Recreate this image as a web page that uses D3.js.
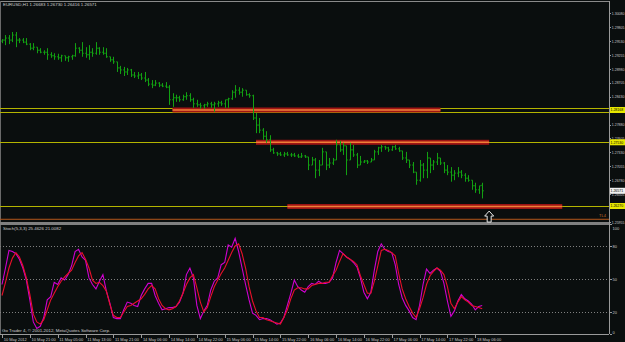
<!DOCTYPE html>
<html>
<head>
<meta charset="utf-8">
<script src="https://cdn.jsdelivr.net/npm/d3@7"></script>
<style>
  body { margin: 0; background: #0a0e0e; }
  svg { display: block; font-family: "Liberation Sans", Arial, sans-serif; }
  .axis text { fill: #c8c8c8; font-size: 4px; }
  .axis path, .axis line { stroke: #9a9a9a; shape-rendering: crispEdges; }
  .yaxis text { font-size: 3.5px; }
</style>
</head>
<body>
<svg id="chart" width="625" height="342"></svg>
<script>
// EURUSD H1 bars, 10 May 13:00 .. 18 May 08:00
const opens = [1.2953,1.2955,1.2959,1.2955,1.2965,1.2955,1.2955,1.2951,1.2947,1.2939,
1.2941,1.2935,1.2931,1.2931,1.2926,1.2924,1.2922,1.2920,1.2924,1.2920,
1.2922,1.2924,1.2939,1.2935,1.2929,1.2926,1.2931,1.2929,1.2939,1.2931,
1.2929,1.2922,1.2916,1.2912,1.2900,1.2896,1.2892,1.2896,1.2886,1.2884,
1.2886,1.2880,1.2876,1.2868,1.2866,1.2870,1.2866,1.2864,1.2862,1.2837,
1.2841,1.2841,1.2837,1.2843,1.2845,1.2837,1.2829,1.2827,1.2825,1.2827,
1.2829,1.2827,1.2829,1.2831,1.2829,1.2837,1.2839,1.2852,1.2856,1.2852,
1.2856,1.2847,1.2845,1.2801,1.2787,1.2777,1.2765,1.2758,1.2738,1.2732,
1.2730,1.2728,1.2730,1.2728,1.2728,1.2726,1.2724,1.2726,1.2724,1.2708,
1.2718,1.2698,1.2708,1.2734,1.2708,1.2712,1.2718,1.2748,1.2738,1.2746,
1.2718,1.2738,1.2728,1.2708,1.2714,1.2716,1.2714,1.2718,1.2734,1.2742,
1.2744,1.2742,1.2738,1.2744,1.2740,1.2736,1.2722,1.2718,1.2708,1.2694,
1.2678,1.2708,1.2698,1.2722,1.2708,1.2714,1.2722,1.2712,1.2698,1.2694,
1.2688,1.2692,1.2694,1.2688,1.2682,1.2678,1.2667,1.2659,1.2668];

const highs = [1.2957,1.2965,1.2965,1.2971,1.2971,1.2959,1.2959,1.2959,1.2949,1.2949,
1.2941,1.2939,1.2935,1.2939,1.2931,1.2929,1.2928,1.2926,1.2924,1.2924,
1.2926,1.2949,1.2941,1.2951,1.2941,1.2945,1.2939,1.2951,1.2941,1.2941,
1.2939,1.2922,1.2922,1.2912,1.2904,1.2902,1.2900,1.2898,1.2892,1.2892,
1.2890,1.2892,1.2880,1.2876,1.2876,1.2872,1.2870,1.2872,1.2866,1.2850,
1.2847,1.2845,1.2847,1.2852,1.2850,1.2841,1.2837,1.2831,1.2829,1.2833,
1.2833,1.2833,1.2835,1.2835,1.2837,1.2841,1.2856,1.2866,1.2862,1.2860,
1.2856,1.2850,1.2847,1.2811,1.2801,1.2781,1.2775,1.2767,1.2742,1.2734,
1.2734,1.2734,1.2734,1.2732,1.2732,1.2730,1.2732,1.2728,1.2724,1.2724,
1.2722,1.2718,1.2742,1.2734,1.2722,1.2722,1.2758,1.2756,1.2752,1.2746,
1.2752,1.2748,1.2732,1.2726,1.2718,1.2718,1.2722,1.2738,1.2744,1.2748,
1.2746,1.2744,1.2746,1.2748,1.2744,1.2736,1.2734,1.2718,1.2714,1.2694,
1.2718,1.2712,1.2734,1.2722,1.2718,1.2732,1.2722,1.2714,1.2708,1.2704,
1.2698,1.2704,1.2698,1.2692,1.2688,1.2678,1.2673,1.2667,1.2673];

const lows = [1.2949,1.2945,1.2947,1.2951,1.2941,1.2949,1.2949,1.2945,1.2935,1.2935,
1.2929,1.2929,1.2926,1.2916,1.2920,1.2916,1.2916,1.2912,1.2914,1.2912,
1.2916,1.2922,1.2929,1.2922,1.2920,1.2916,1.2922,1.2926,1.2926,1.2926,
1.2920,1.2912,1.2908,1.2892,1.2888,1.2884,1.2886,1.2882,1.2880,1.2878,
1.2876,1.2872,1.2864,1.2860,1.2864,1.2862,1.2862,1.2860,1.2827,1.2823,
1.2833,1.2833,1.2835,1.2837,1.2833,1.2821,1.2823,1.2819,1.2819,1.2823,
1.2821,1.2813,1.2823,1.2825,1.2821,1.2821,1.2837,1.2841,1.2847,1.2843,
1.2845,1.2841,1.2797,1.2771,1.2771,1.2758,1.2752,1.2734,1.2730,1.2726,
1.2726,1.2724,1.2726,1.2724,1.2724,1.2722,1.2722,1.2722,1.2698,1.2708,
1.2682,1.2686,1.2708,1.2698,1.2702,1.2708,1.2718,1.2734,1.2728,1.2688,
1.2718,1.2724,1.2702,1.2708,1.2712,1.2710,1.2714,1.2718,1.2728,1.2734,
1.2738,1.2734,1.2736,1.2738,1.2734,1.2718,1.2712,1.2702,1.2692,1.2669,
1.2675,1.2682,1.2682,1.2692,1.2698,1.2708,1.2708,1.2692,1.2688,1.2675,
1.2678,1.2684,1.2682,1.2675,1.2675,1.2659,1.2653,1.2651,1.2642];

const closes = [1.2955,1.2959,1.2955,1.2965,1.2955,1.2955,1.2951,1.2947,1.2939,1.2941,
1.2935,1.2931,1.2931,1.2926,1.2924,1.2922,1.2920,1.2924,1.2920,1.2922,
1.2924,1.2939,1.2935,1.2929,1.2926,1.2931,1.2929,1.2939,1.2931,1.2929,
1.2922,1.2916,1.2912,1.2900,1.2896,1.2892,1.2896,1.2886,1.2884,1.2886,
1.2880,1.2876,1.2868,1.2866,1.2870,1.2866,1.2864,1.2862,1.2837,1.2841,
1.2841,1.2837,1.2843,1.2845,1.2837,1.2829,1.2827,1.2825,1.2827,1.2829,
1.2827,1.2829,1.2831,1.2829,1.2837,1.2839,1.2852,1.2856,1.2852,1.2856,
1.2847,1.2845,1.2801,1.2787,1.2777,1.2765,1.2758,1.2738,1.2732,1.2730,
1.2728,1.2730,1.2728,1.2728,1.2726,1.2724,1.2726,1.2724,1.2708,1.2718,
1.2698,1.2708,1.2734,1.2708,1.2712,1.2718,1.2748,1.2738,1.2746,1.2718,
1.2738,1.2728,1.2708,1.2714,1.2716,1.2714,1.2718,1.2734,1.2742,1.2744,
1.2742,1.2738,1.2744,1.2740,1.2736,1.2722,1.2718,1.2708,1.2694,1.2678,
1.2708,1.2698,1.2722,1.2708,1.2714,1.2722,1.2712,1.2698,1.2694,1.2688,
1.2692,1.2694,1.2688,1.2682,1.2678,1.2667,1.2659,1.2667,1.2657];

// Stochastic(5,3,3): main and signal
const stochMain = [45,60,76,75,73,68,60,49,31,11,
5,7,15,31,34,47,45,51,49,54,
62,75,77,70,67,51,45,41,48,54,
39,28,15,14,14,22,29,28,26,25,
35,41,46,46,35,28,22,23,24,24,
25,29,37,54,60,51,26,14,21,26,
40,48,51,63,65,81,79,87,75,60,
45,31,19,17,13,14,14,13,11,9,
10,15,26,37,49,43,40,38,43,46,
45,48,46,46,47,51,65,76,73,70,
68,65,61,51,38,32,38,58,75,82,
77,75,74,63,45,33,26,21,15,13,
26,45,59,55,58,60,57,46,30,16,
21,30,36,32,30,27,22,25,26];

const stochSignal = [35,47,60,69,74,70,62,51,36,18,
11,9,13,22,31,37,43,48,52,55,
58,65,71,74,68,60,49,46,47,44,
39,27,17,15,15,20,25,26,28,30,
32,36,41,44,41,32,26,23,22,23,
25,30,37,45,51,54,42,29,20,24,
34,43,49,55,60,67,74,80,82,73,
60,43,30,21,15,15,13,12,11,10,
9,15,22,32,40,42,42,41,41,44,
45,46,46,47,47,53,58,66,73,70,
68,66,63,53,45,37,37,48,62,76,
77,76,74,71,55,41,32,25,19,15,
23,33,45,53,57,60,58,54,43,28,
23,29,34,31,29,26,25,24,23];

// price ticks; 1.28155 and 1.26230 sit under the yellow tags
const priceTicks = [1.30080,1.29805,1.29530,1.29255,1.28980,1.28705,1.28430,
1.27880,1.27605,1.27330,1.27055,1.26780,1.26505,1.25955];
const stochTicks = [0,20,50,80,100];
const stochLevels = [20,50,80];
const timeIdx = [0,8,16,24,32,40,48,56,64,72,80,88,96,104,112,120,128,136];
const timeLabels = ["10 May 2012","10 May 21:00","11 May 05:00","11 May 13:00","11 May 21:00",
"14 May 06:00","14 May 14:00","14 May 22:00","15 May 06:00","15 May 14:00","15 May 22:00",
"16 May 06:00","16 May 14:00","16 May 22:00","17 May 06:00","17 May 14:00","17 May 22:00","18 May 06:00"];

// horizontal levels (yellow), zones (red bands) and a trend line
const hLevels = [1.28202,1.28135,1.27530,1.26270];
const tagLevels = [1.28168,1.27530,1.26270];
const zoneStart = [49,73,82];
const zoneEnd = [126,140,161];
const zonePrice = [1.28168,1.27530,1.26260];
const trendPrice = 1.26008;
const lastPrice = 1.26571;
const arrowIdx = 140, arrowPrice = 1.26170;

const svg = d3.select("#chart");
const plotR = 609;

svg.append("rect").
    attr("width", 625).
    attr("height", 342).
    attr("fill", "#0a0e0e");

const x = d3.scaleLinear().
    domain([0, 138]).
    range([2, 482.2]);

const y = d3.scaleLinear().
    domain([1.30303, 1.25954]).
    range([2, 222]);

const ys = d3.scaleLinear().
    domain([0, 100]).
    range([334, 224]);

// frame
const frame = svg.append("g").attr("shape-rendering", "crispEdges");
frame.append("line").attr("x1", 0).attr("x2", plotR).attr("y1", 1.5).attr("y2", 1.5).attr("stroke", "#8a8a8a");
frame.append("line").attr("x1", 0.5).attr("x2", 0.5).attr("y1", 1).attr("y2", 334).attr("stroke", "#6a6a6a");
frame.append("rect").attr("x", 0).attr("y", 222).attr("width", plotR).attr("height", 3).attr("fill", "#808080");

// yellow horizontal lines
svg.selectAll(".hl").
    data(hLevels).
    enter().
    append("line").
    attr("x1", 0).
    attr("x2", plotR).
    attr("y1", (d) => Math.round(y(d)) + 0.5).
    attr("y2", (d) => Math.round(y(d)) + 0.5).
    attr("stroke", "#b4b400").
    attr("stroke-width", 1);

// trend line
svg.append("line").
    attr("x1", 0).
    attr("x2", plotR).
    attr("y1", y(trendPrice)).
    attr("y2", y(trendPrice)).
    attr("stroke", "#b4581c").
    attr("stroke-width", 1);
svg.append("text").
    attr("x", 599).
    attr("y", y(trendPrice) - 2).
    attr("fill", "#c06a28").
    attr("font-size", 4).
    text("TL4");

// red zones
zonePrice.forEach((p, i) => {
    svg.append("rect").
        attr("x", x(zoneStart[i])).
        attr("y", y(p) - 2.5).
        attr("width", x(zoneEnd[i]) - x(zoneStart[i])).
        attr("height", 5).
        attr("fill", "#a01414");
    svg.append("line").
        attr("x1", x(zoneStart[i])).
        attr("x2", x(zoneEnd[i])).
        attr("y1", y(p)).
        attr("y2", y(p)).
        attr("stroke", "#f08038").
        attr("stroke-width", 1.6);
});

// OHLC bars
const bars = svg.append("g").attr("stroke", "#12a012").attr("stroke-width", 1);
closes.forEach((c, i) => {
    const bx = Math.round(x(i)) + 0.5;
    bars.append("line").attr("x1", bx).attr("x2", bx).attr("y1", y(highs[i])).attr("y2", y(lows[i]));
    bars.append("line").attr("x1", bx - 1.3).attr("x2", bx).attr("y1", y(opens[i])).attr("y2", y(opens[i]));
    bars.append("line").attr("x1", bx).attr("x2", bx + 1.3).attr("y1", y(c)).attr("y2", y(c));
});

// up arrow
const ax = x(arrowIdx), ay = y(arrowPrice);
svg.append("path").
    attr("d", `M${ax},${ay} L${ax + 4.5},${ay + 5} L${ax + 2},${ay + 5} L${ax + 2},${ay + 11} L${ax - 2},${ay + 11} L${ax - 2},${ay + 5} L${ax - 4.5},${ay + 5} Z`).
    attr("fill", "#0a0e0e").
    attr("stroke", "#e8e8e8").
    attr("stroke-width", 1);

// stochastic levels
svg.selectAll(".lvl").
    data(stochLevels).
    enter().
    append("line").
    attr("x1", 0).
    attr("x2", plotR).
    attr("y1", (d) => Math.round(ys(d)) + 0.5).
    attr("y2", (d) => Math.round(ys(d)) + 0.5).
    attr("stroke", "#808080").
    attr("stroke-dasharray", "1,2");

const line = d3.line().
    x((d, i) => x(i)).
    y((d) => ys(d));

svg.append("path").
    datum(stochMain).
    attr("d", line).
    attr("fill", "none").
    attr("stroke", "#d000d0").
    attr("stroke-width", 1.1);

svg.append("path").
    datum(stochSignal).
    attr("d", line).
    attr("fill", "none").
    attr("stroke", "#e8102a").
    attr("stroke-width", 1.1);

// axes
svg.append("g").
    attr("class", "axis yaxis").
    attr("transform", `translate(${plotR + 0.5},0)`).
    call(d3.axisRight(y).tickValues(priceTicks).tickSize(1.5).tickPadding(0.8).tickFormat(d3.format(".5f"))).
    call((g) => g.select(".domain").attr("d", "M0,1V334"));

svg.append("g").
    attr("class", "axis").
    attr("transform", `translate(${plotR + 0.5},0)`).
    call(d3.axisRight(ys).tickValues(stochTicks).tickSize(2).tickPadding(1)).
    call((g) => g.select(".domain").remove()).
    call((g) => g.selectAll("text").attr("dy", (d) => d === 100 ? "1.3em" : d === 0 ? "-0.2em" : "0.32em"));

svg.append("g").
    attr("class", "axis").
    attr("transform", "translate(0,334.5)").
    call(d3.axisBottom(x).tickValues(timeIdx).tickSize(3).tickPadding(0.5).tickFormat((d, i) => timeLabels[i])).
    call((g) => g.select(".domain").attr("d", `M0,0H${plotR}`)).
    call((g) => g.selectAll("text").attr("text-anchor", "start").attr("dx", 1.2));

// price tags on the axis
const tags = tagLevels.map((p) => ({p, bg: "#e8e800"})).concat([{p: lastPrice, bg: "#f0f0f0"}]);
tags.forEach((t) => {
    svg.append("rect").
        attr("x", plotR + 1).
        attr("y", y(t.p) - 3).
        attr("width", 15).
        attr("height", 6).
        attr("fill", t.bg);
    svg.append("text").
        attr("x", plotR + 1.5).
        attr("y", y(t.p) + 1.4).
        attr("fill", "#000").
        attr("font-size", 3.5).
        text(t.p.toFixed(5));
});

// captions
const cap = svg.append("g").attr("fill", "#d0d0d0").attr("font-size", 4.4);
cap.append("text").attr("x", 3).attr("y", 6).text("EURUSD,H1  1.26683 1.26730 1.26416 1.26571");
cap.append("text").attr("x", 3).attr("y", 230).text("Stoch(5,3,3) 25.4626 21.0082");
cap.append("text").attr("x", 2).attr("y", 332).text("Go Trader 4, © 2001-2012, MetaQuotes Software Corp.");
</script>
</body>
</html>
